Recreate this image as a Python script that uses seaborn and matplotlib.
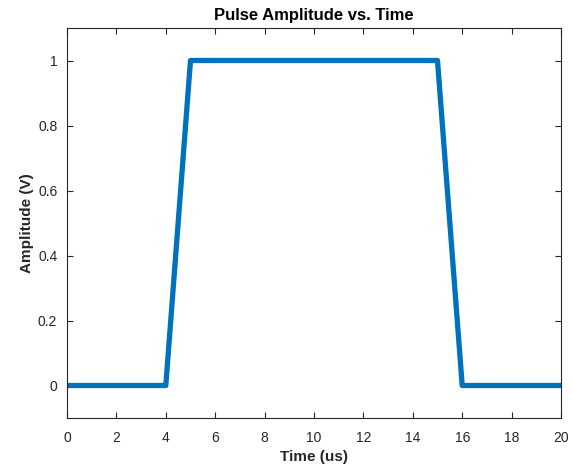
import matplotlib
matplotlib.use("Agg")
import matplotlib.pyplot as plt
import seaborn as sns
import pandas as pd

# Trapezoidal pulse: time (us) and amplitude (V)
time_us = [0, 4, 5, 15, 16, 20]
amplitude_v = [0, 0, 1, 1, 0, 0]

x_ticks = [0, 2, 4, 6, 8, 10, 12, 14, 16, 18, 20]
y_ticks = [0, 0.2, 0.4, 0.6, 0.8, 1]
y_tick_labels = ["0", "0.2", "0.4", "0.6", "0.8", "1"]

sns.set_theme(style="white")
plt.rcParams["font.family"] = ["Liberation Sans", "DejaVu Sans"]

dark = "#262626"
df = pd.DataFrame({"t": time_us, "a": amplitude_v})

fig = plt.figure(figsize=(5.72, 4.66), dpi=100)
ax = fig.add_axes([67 / 572, 48 / 466, (561 - 67) / 572, (418 - 28) / 466])

sns.lineplot(data=df, x="t", y="a", ax=ax, color="#0072BD", linewidth=3.8,
             sort=False, estimator=None)

ax.set_xlim(0, 20)
ax.set_ylim(-0.1, 1.1)
ax.set_xticks(x_ticks)
ax.set_yticks(y_ticks)
ax.set_yticklabels(y_tick_labels)

ax.tick_params(direction="in", length=4, width=0.8, colors=dark,
               labelsize=10, top=True, right=True, bottom=True, left=True,
               pad=7)
ax.tick_params(axis="x", pad=9)
for side in ["top", "bottom", "left", "right"]:
    ax.spines[side].set_visible(True)
    ax.spines[side].set_color(dark)
    ax.spines[side].set_linewidth(0.8)

ax.set_xlabel("Time (us)", fontsize=11, fontweight="bold", color=dark, labelpad=4)
ax.set_ylabel("Amplitude (V)", fontsize=11, fontweight="bold", color=dark, labelpad=3)
ax.set_title("Pulse Amplitude vs. Time", fontsize=12, fontweight="bold",
             color="black", pad=6)

fig.savefig("out.png", dpi=100)
